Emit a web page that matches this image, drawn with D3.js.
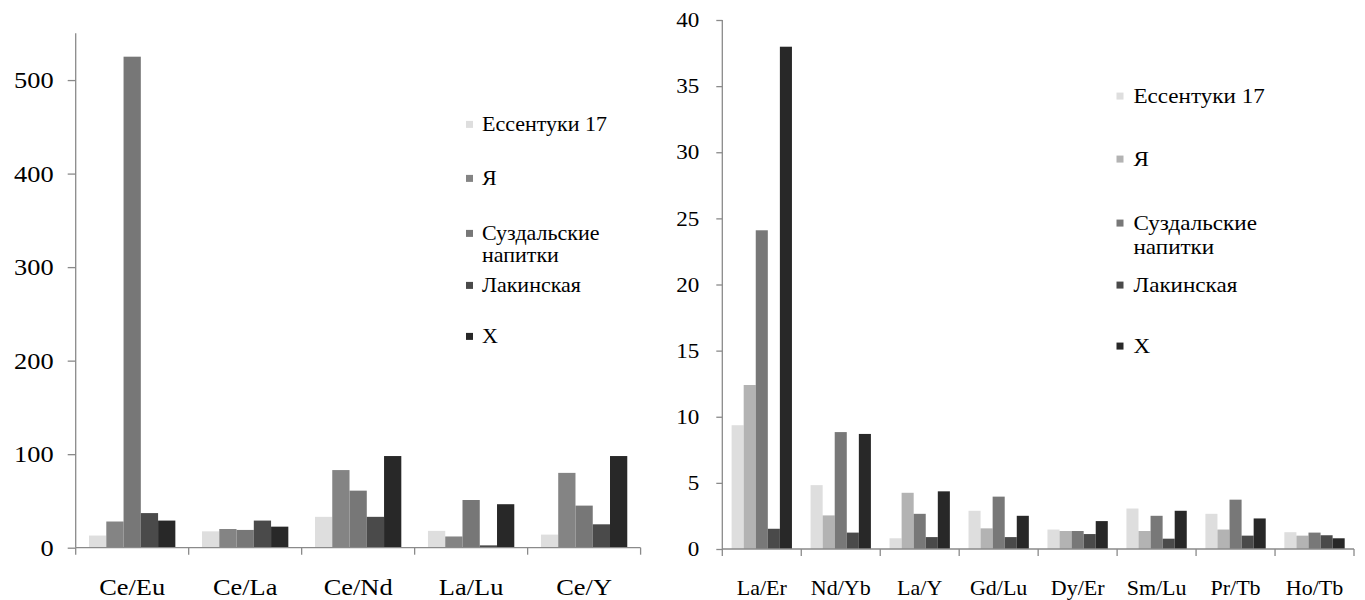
<!DOCTYPE html>
<html>
<head>
<meta charset="utf-8">
<script src="https://cdn.jsdelivr.net/npm/d3@7/dist/d3.min.js"></script>
<style>
  html, body { margin: 0; padding: 0; background: #fff; }
  svg { display: block; }
</style>
</head>
<body>
<svg id="chart" width="1365" height="600"></svg>
<script>
// ---------- DATA ----------
const seriesNames = ["Ессентуки 17", "Я", "Суздальские напитки", "Лакинская", "X"];
const legendLines = [["Ессентуки 17"], ["Я"], ["Суздальские", "напитки"], ["Лакинская"], ["X"]];

const leftCategories = ["Ce/Eu", "Ce/La", "Ce/Nd", "La/Lu", "Ce/Y"];
const leftEssentuki = [13, 17.5, 33, 18, 14];
const leftYa        = [28, 20, 83, 12, 80];
const leftSuzdal    = [525, 19, 61, 51, 45];
const leftLakin     = [37, 29, 33, 2.5, 25];
const leftX         = [29, 22.5, 98, 46.5, 98];
const leftTicks = [0, 100, 200, 300, 400, 500];
const leftMax = 550;

const rightCategories = ["La/Er", "Nd/Yb", "La/Y", "Gd/Lu", "Dy/Er", "Sm/Lu", "Pr/Tb", "Ho/Tb"];
const rightEssentuki = [9.36, 4.83, 0.81, 2.89, 1.47, 3.06, 2.66, 1.27];
const rightYa        = [12.4, 2.54, 4.25, 1.56, 1.36, 1.36, 1.47, 1.01];
const rightSuzdal    = [24.1, 8.84, 2.66, 3.96, 1.36, 2.51, 3.73, 1.24];
const rightLakin     = [1.53, 1.24, 0.9, 0.9, 1.13, 0.78, 1.01, 1.04];
const rightX         = [37.98, 8.7, 4.36, 2.51, 2.11, 2.89, 2.31, 0.81];
const rightTicks = [0, 5, 10, 15, 20, 25, 30, 35, 40];
const rightMax = 40;

const leftColors  = ["#dedede", "#848484", "#777777", "#4a4a4a", "#282828"];
const rightColors = ["#dedede", "#b3b3b3", "#787878", "#4a4a4a", "#282828"];

// ---------- DRAW ----------
const FONT = "'Liberation Serif', 'Times New Roman', serif";
const svg = d3.select("#chart");
const SX = 1.1;
const axisColor = "#8a8a8a";

function stretch(sel) {
  sel.style("font-family", FONT).style("fill", "#000");
  sel.each(function () {
    const t = d3.select(this);
    const x = +t.attr("x") || 0;
    t.attr("transform", `translate(${x},0) scale(${SX},1) translate(${-x},0)`);
  });
}

function drawChart(cfg) {
  const g = svg.append("g");
  const x = d3.scaleBand().domain(cfg.categories).range([cfg.x0, cfg.x1]).padding(0);
  const y = d3.scaleLinear().domain([0, cfg.max]).range([cfg.y0, cfg.y1]);
  const off = x.bandwidth() * 0.118;
  const xs = d3.scaleBand().domain(d3.range(cfg.series.length))
    .range([off, x.bandwidth() - off]).padding(0);

  const rows = cfg.categories.map((c, i) => ({ cat: c, vals: cfg.series.map(s => s[i]) }));

  // bars
  const grp = g.append("g").selectAll("g").data(rows).join("g")
    .attr("transform", d => `translate(${x(d.cat)},0)`);
  grp.selectAll("rect").data(d => d.vals.map((v, k) => ({ v, k }))).join("rect")
    .attr("x", d => xs(d.k))
    .attr("width", xs.bandwidth())
    .attr("y", d => y(d.v))
    .attr("height", d => y(0) - y(d.v))
    .attr("fill", d => cfg.colors[d.k]);

  // y axis
  const ya = g.append("g").attr("transform", `translate(${cfg.x0},0)`)
    .call(d3.axisLeft(y).tickValues(cfg.ticks).tickSize(cfg.tickLen).tickPadding(cfg.tickPad).tickSizeOuter(0));
  ya.attr("font-family", null).attr("font-size", null);
  ya.select(".domain").attr("stroke", axisColor).attr("stroke-width", 1.3)
    .attr("d", `M0,${y(cfg.max)}V${y(0)}`);
  ya.selectAll(".tick line").attr("stroke", axisColor).attr("stroke-width", 1.3);
  ya.selectAll(".tick text").style("font-size", cfg.tickFont + "px").call(stretch);

  // x axis line + boundary ticks
  const xa = g.append("g");
  xa.append("line").attr("x1", cfg.x0).attr("x2", cfg.x1).attr("y1", y(0)).attr("y2", y(0))
    .attr("stroke", axisColor).attr("stroke-width", 1.3);
  const bounds = cfg.categories.map(c => x(c)).concat([cfg.x1]);
  xa.selectAll("line.b").data(bounds).join("line").attr("class", "b")
    .attr("x1", d => d).attr("x2", d => d)
    .attr("y1", y(0)).attr("y2", y(0) + 7)
    .attr("stroke", axisColor).attr("stroke-width", 1.3);
  xa.selectAll("text").data(cfg.categories).join("text")
    .attr("x", d => x(d) + x.bandwidth() / 2)
    .attr("y", cfg.labelY)
    .attr("text-anchor", "middle")
    .style("font-size", cfg.catFont + "px")
    .text(d => d)
    .call(stretch);

  // legend
  const lg = g.append("g");
  cfg.legendY.forEach((by, i) => {
    const lines = legendLines[i];
    lg.append("rect")
      .attr("x", cfg.legendX).attr("y", by - cfg.legendFont * 0.33 - 3.5)
      .attr("width", 7).attr("height", 7)
      .attr("fill", cfg.colors[i]);
    lines.forEach((ln, j) => {
      lg.append("text")
        .attr("x", cfg.legendX + cfg.legendGap)
        .attr("y", by + j * cfg.legendLine)
        .style("font-size", cfg.legendFont + "px")
        .text(ln)
        .call(stretch);
    });
  });
}

drawChart({
  categories: leftCategories,
  series: [leftEssentuki, leftYa, leftSuzdal, leftLakin, leftX],
  colors: leftColors,
  max: leftMax, ticks: leftTicks,
  x0: 75.7, x1: 640.6, y0: 547.7, y1: 33.3,
  tickLen: 8, tickPad: 14, tickFont: 24,
  catFont: 24, labelY: 595,
  legendX: 466, legendGap: 16, legendFont: 20, legendLine: 22,
  legendY: [131, 185, 240, 292, 343]
});

drawChart({
  categories: rightCategories,
  series: [rightEssentuki, rightYa, rightSuzdal, rightLakin, rightX],
  colors: rightColors,
  max: rightMax, ticks: rightTicks,
  x0: 722.3, x1: 1354, y0: 549, y1: 20,
  tickLen: 6, tickPad: 17, tickFont: 21,
  catFont: 20, labelY: 595,
  legendX: 1116.5, legendGap: 17, legendFont: 21, legendLine: 24,
  legendY: [103, 166, 230, 292, 353]
});
</script>
</body>
</html>
